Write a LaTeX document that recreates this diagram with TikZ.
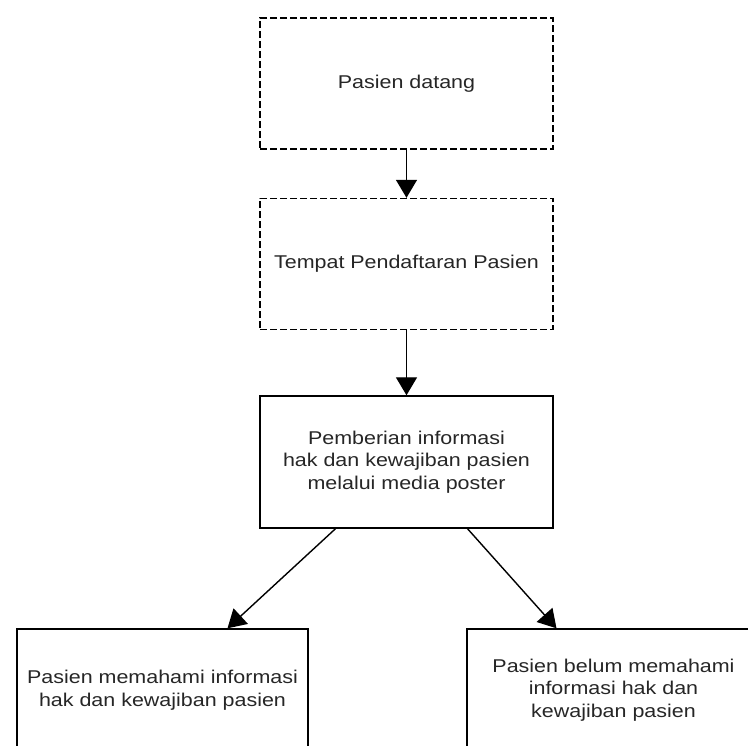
\documentclass[tikz,border=0pt]{standalone}
\usepackage{fontspec}
\setmainfont{Liberation Sans}[FakeStretch=1.16]
\usepackage{tikz}
\usetikzlibrary{arrows.meta}

\begin{document}
\begin{tikzpicture}[x=1pt,y=-1pt,
	dashbox/.style={draw, dashed, dash pattern=on 7pt off 3pt, line width=1.4pt, minimum width=293pt, minimum height=131pt, align=center, text=black!85, font=\fontsize{18.5}{22.5}\selectfont, inner sep=0pt},
	plainbox/.style={draw, line width=1.4pt, minimum width=293pt, minimum height=132pt, align=center, text=black!85, font=\fontsize{18.5}{22.5}\selectfont, inner sep=0pt},
	flow/.style={line width=1.4pt, -{Triangle[length=18pt,width=21pt]}}]

	\useasboundingbox (0,0) rectangle (748,746);
	\clip (0,0) rectangle (748,746);

	\node[dashbox] (datang) at (406.5,83.5) {Pasien datang};
	\node[dashbox] (daftar) at (406.5,264) {Tempat Pendaftaran Pasien};
	\node[plainbox] (poster) at (406.5,462) {Pemberian informasi\\hak dan kewajiban pasien\\melalui media poster};

	% the lower two are cut off by the page edge
	\node[plainbox, minimum width=291pt, minimum height=122pt] (paham) at (162.5,690) {Pasien memahami informasi\\hak dan kewajiban pasien};
	\node[plainbox, minimum height=122pt] (belum) at (613.5,690) {Pasien belum memahami\\informasi hak dan\\kewajiban pasien};

	\draw[flow] (datang.south) -- (daftar.north);
	\draw[flow] (daftar.south) -- (poster.north);
	\draw[flow] ([xshift=-71pt]poster.south) -- ([xshift=65pt]paham.north);
	\draw[flow] ([xshift=61pt]poster.south) -- ([xshift=-57pt]belum.north);

\end{tikzpicture}
\end{document}
